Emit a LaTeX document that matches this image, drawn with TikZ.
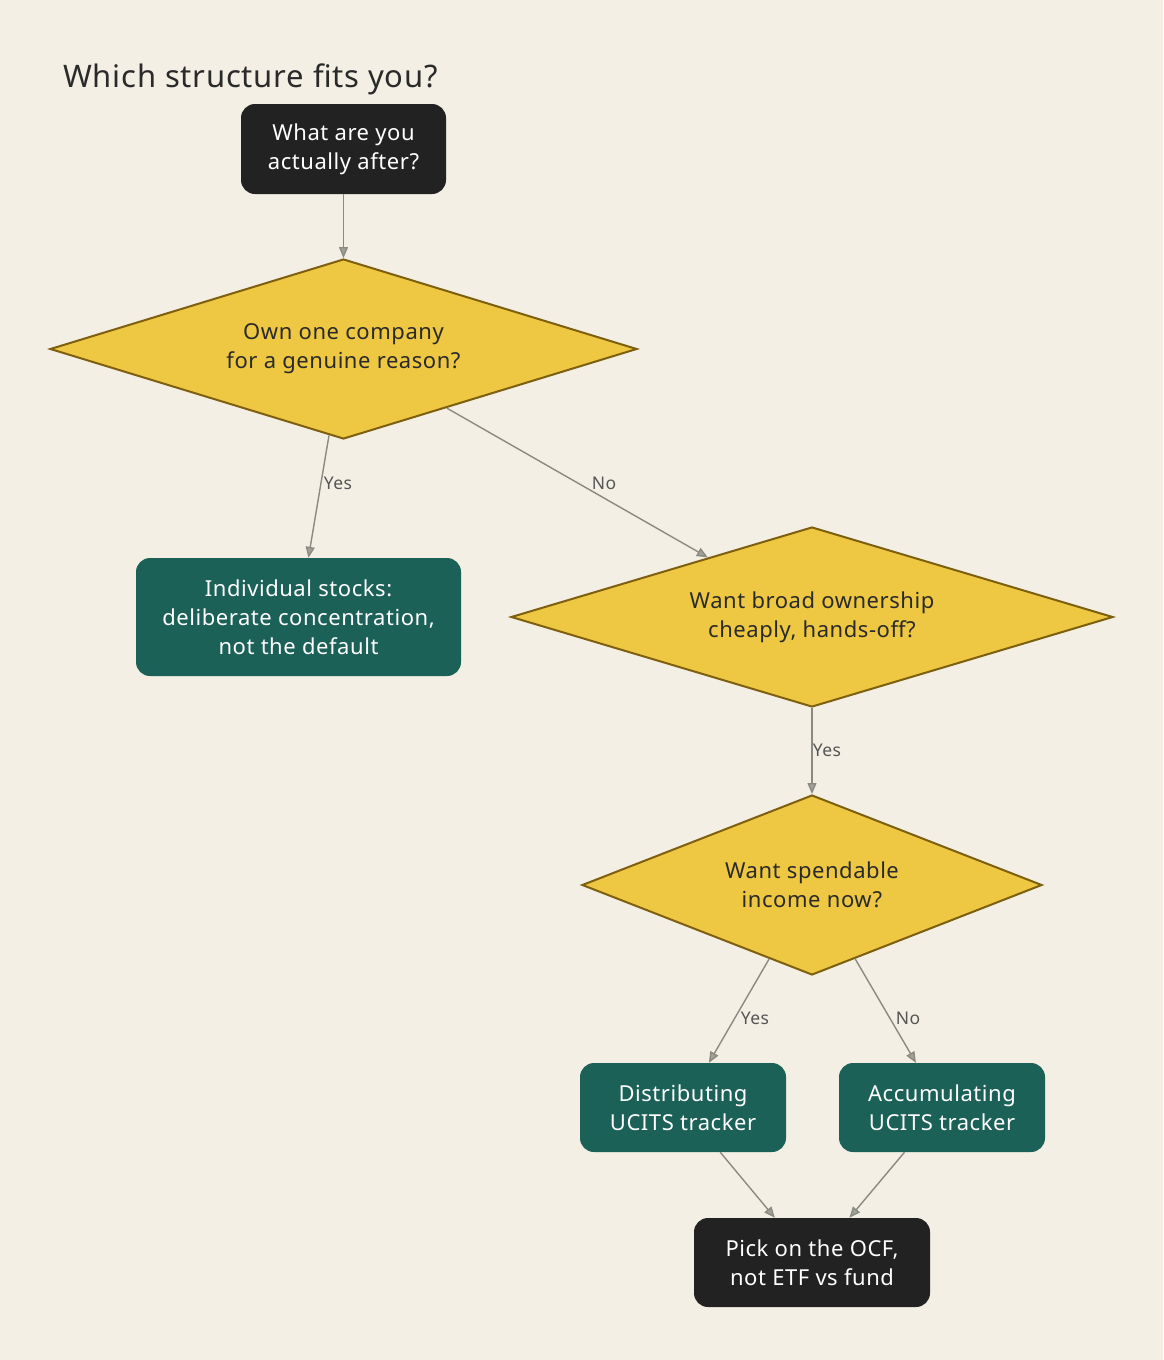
\documentclass[tikz,border=0pt]{standalone}
\usepackage{fontspec}
\setmainfont[LetterSpace=2.5]{Noto Sans}
\usetikzlibrary{shapes.geometric,arrows.meta}
\definecolor{bg}{HTML}{F3EFE4}
\definecolor{darkbox}{HTML}{222222}
\definecolor{teal}{HTML}{1B6158}
\definecolor{gold}{HTML}{EEC843}
\definecolor{goldline}{HTML}{7D5F0E}
\definecolor{edgegray}{HTML}{8A8A80}
\definecolor{titletext}{HTML}{2A2A2A}
\definecolor{lbltext}{HTML}{555555}
\tikzset{
  box/.style={rounded corners=14pt, align=center, inner sep=0pt, text=white,
    font=\fontsize{22}{29}\selectfont},
  darkbox/.style={box, fill=darkbox},
  tealbox/.style={box, fill=teal},
  diam/.style={diamond, fill=gold, draw=goldline, line width=2pt, inner sep=0pt,
    align=center, text=titletext, font=\fontsize{22}{29}\selectfont},
  conn/.style={draw=edgegray, line width=1.4pt, -{Triangle[length=11pt,width=9pt,fill=edgegray!80]}},
  lbl/.style={text=lbltext, font=\fontsize{17.5}{20}\selectfont, inner sep=1pt}
}
\begin{document}
\begin{tikzpicture}[x=1pt,y=-1pt]
\fill[bg] (0,0) rectangle (1163,1360);
\useasboundingbox (0,0) rectangle (1163,1360);
\node[anchor=west, text=titletext, font=\fontsize{31}{36}\selectfont, inner sep=0pt] (title) at (63,79) {Which structure fits you?};
\node[darkbox, minimum width=205pt, minimum height=90pt] (start) at (343.5,149) {What are you\\actually after?};
\node[diam, aspect=3.26, minimum width=587pt, minimum height=180pt] (d1) at (343.5,349) {Own one company\\for a genuine reason?};
\node[tealbox, minimum width=325pt, minimum height=118pt] (stocks) at (298.5,617) {Individual stocks:\\deliberate concentration,\\not the default};
\node[diam, aspect=3.34, minimum width=602pt, minimum height=180pt] (d2) at (812,617) {Want broad ownership\\cheaply, hands-off?};
\node[diam, aspect=2.56, minimum width=460pt, minimum height=180pt] (d3) at (812,885) {Want spendable\\income now?};
\node[tealbox, minimum width=206pt, minimum height=89pt] (dist) at (683,1107.5) {Distributing\\UCITS tracker};
\node[tealbox, minimum width=206pt, minimum height=89pt] (acc) at (942,1107.5) {Accumulating\\UCITS tracker};
\node[darkbox, minimum width=236pt, minimum height=89pt] (final) at (812,1262.5) {Pick on the OCF,\\not ETF vs fund};
\draw[conn] (start) -- (d1);
\draw[conn] (d1) -- (stocks);
\draw[conn] (d1) -- (d2);
\draw[conn] (d2) -- (d3);
\draw[conn] (d3) -- (dist);
\draw[conn] (d3) -- (acc);
\draw[conn] (dist) -- (final);
\draw[conn] (acc) -- (final);
\node[lbl] (l1) at (338,483) {Yes};
\node[lbl] (l2) at (604,483) {No};
\node[lbl] (l3) at (827,750) {Yes};
\node[lbl] (l4) at (755,1018) {Yes};
\node[lbl] (l5) at (908,1018) {No};
\end{tikzpicture}
\end{document}
